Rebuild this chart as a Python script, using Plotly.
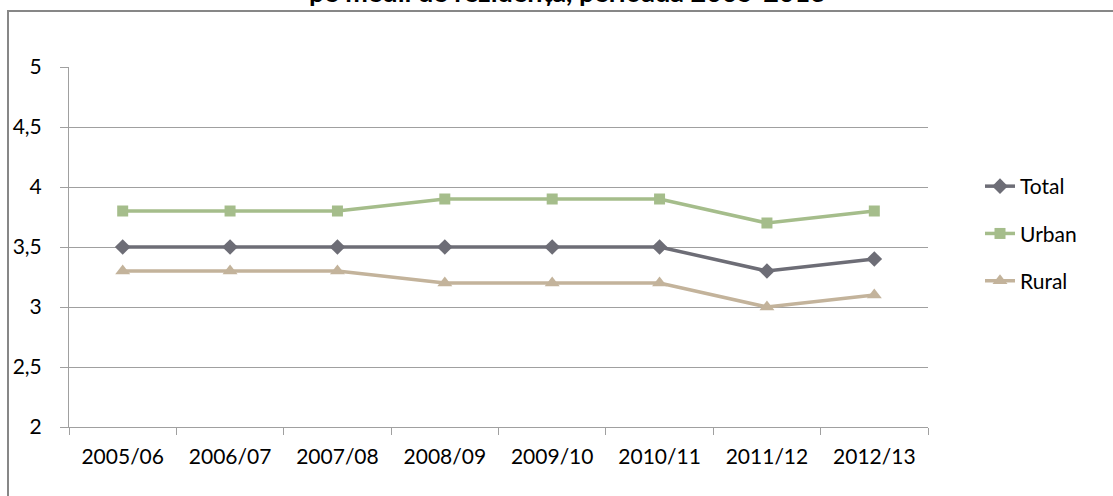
import plotly.graph_objects as go

categories = ["2005/06", "2006/07", "2007/08", "2008/09", "2009/10", "2010/11", "2011/12", "2012/13"]
total = [3.5, 3.5, 3.5, 3.5, 3.5, 3.5, 3.3, 3.4]
urban = [3.8, 3.8, 3.8, 3.9, 3.9, 3.9, 3.7, 3.8]
rural = [3.3, 3.3, 3.3, 3.2, 3.2, 3.2, 3.0, 3.1]
y_ticks = [2, 2.5, 3, 3.5, 4, 4.5, 5]
title_text = "pe medii de rezidență, perioada 2005-2013"

W, H = 1113, 496
L, R, T, B = 69, 928, 67, 427

def px(x):
    return (x - L) / (R - L)

def py(y):
    return (B - y) / (B - T)

FONT = "Lato, 'Noto Sans', sans-serif"
FS = 21

fig = go.Figure()
series = [
    ("Total", total, "#6D6D76", "diamond", 12),
    ("Urban", urban, "#A5BD8B", "square", 11),
    ("Rural", rural, "#C3B39B", "triangle-up", 13),
]
for i, (name, vals, col, sym, sz) in enumerate(series):
    fig.add_trace(go.Scatter(
        x=categories, y=vals, name=name, mode="lines+markers",
        line=dict(color=col, width=3.5),
        marker=dict(symbol=sym, size=sz, color=col),
        legendgroup=f"g{i}",
    ))

fig.update_layout(
    width=W, height=H,
    margin=dict(l=L, r=W - R, t=T, b=H - B),
    paper_bgcolor="white", plot_bgcolor="white",
    separators=", ",
    font=dict(family=FONT, size=FS, color="#000000"),
    showlegend=True,
    legend=dict(
        x=px(980), y=py(166), xanchor="left", yanchor="top",
        font=dict(family=FONT, size=FS, color="#000000"),
        tracegroupgap=17, bgcolor="rgba(0,0,0,0)",
    ),
    xaxis=dict(
        type="category", range=[-0.5, 7.5],
        showgrid=False, showline=True, linecolor="#A0A0A0", linewidth=1,
        ticks="outside", tickson="boundaries", ticklen=7, tickcolor="#A0A0A0",
        tickfont=dict(family=FONT, size=FS, color="#000000"),
        zeroline=False, ticklabelstandoff=11,
    ),
    yaxis=dict(
        range=[2, 5], tickvals=y_ticks,
        showgrid=True, gridcolor="#A0A0A0", gridwidth=1,
        showline=True, linecolor="#A0A0A0", linewidth=1,
        ticks="outside", ticklen=8, tickcolor="#A0A0A0",
        tickfont=dict(family=FONT, size=FS, color="#000000"),
        zeroline=False, ticklabelstandoff=14,
    ),
    shapes=[dict(
        type="rect", xref="paper", yref="paper",
        x0=px(8), x1=px(1300), y0=py(11), y1=py(700),
        line=dict(color="#878787", width=2), fillcolor="rgba(0,0,0,0)", layer="below",
    )],
    annotations=[dict(
        text=f"<b>{title_text}</b>", xref="paper", yref="paper",
        x=px(567), y=py(10), xanchor="center", yanchor="bottom",
        showarrow=False, font=dict(family=FONT, size=27, color="#000000"),
    )],
)

fig.write_html(
    "out.html",
    config={"displayModeBar": False},
    post_script="document.body.style.margin='0';document.body.style.overflow='hidden';",
)
